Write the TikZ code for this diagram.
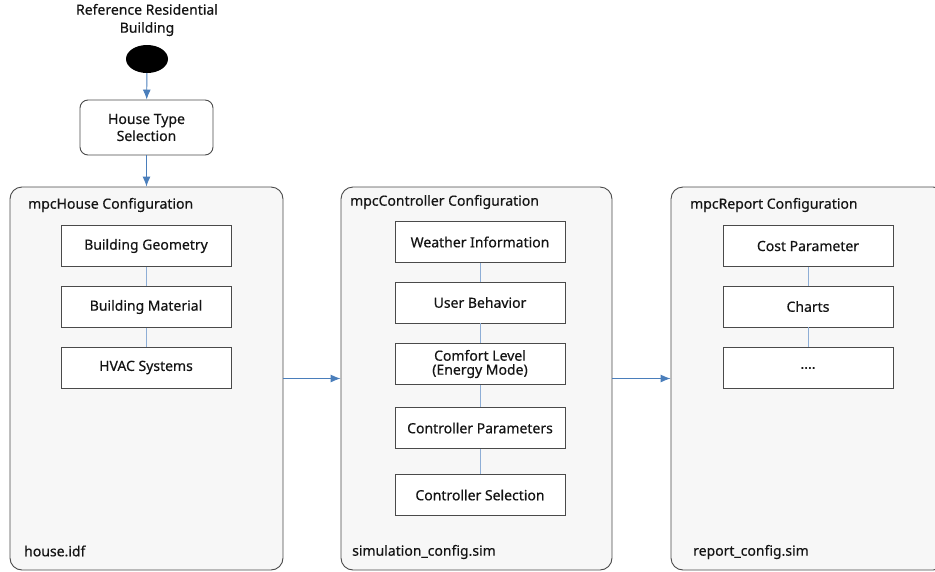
\documentclass[tikz,border=0pt]{standalone}
\usepackage{fontspec}
\setmainfont{Noto Sans}[FakeBold=0.4]
\usetikzlibrary{arrows.meta}
\usetikzlibrary{shapes.geometric}
\definecolor{pn}{HTML}{F7F7F7}
\definecolor{bl}{HTML}{4A7EBB}
\definecolor{lb}{HTML}{8EAED6}
\definecolor{ln}{HTML}{4A4A4A}
\definecolor{tx}{HTML}{141414}

\begin{document}
\begin{tikzpicture}[x=1pt, y=-1pt, text=tx,
  every node/.style={font=\fontsize{14}{18}\selectfont},
  panel/.style={draw=ln, fill=pn, line width=0.9pt, rounded corners=12pt, minimum width=#1, minimum height=383pt, inner sep=0pt},
  item/.style={draw=ln, fill=white, line width=0.9pt, minimum width=170pt, minimum height=41pt, align=center, inner sep=2pt},
  caption/.style={anchor=west, inner sep=0pt},
  link/.style={draw=lb, line width=0.9pt},
  flow/.style={draw=bl, line width=0.9pt, -{Latex[length=10pt,width=8pt]}}]
  \useasboundingbox (0,0) rectangle (935,571);
  \clip (0,0) rectangle (935,571);

  % start
  \node[align=center] (ref) at (147,20) {Reference Residential\\Building};
  \node[ellipse, fill=black, minimum width=42pt, minimum height=28pt, inner sep=0pt] (start) at (147,59) {};
  \node[draw=ln, fill=white, line width=0.9pt, rounded corners=8pt, minimum width=133pt, minimum height=55pt, align=center] (type) at (146.5,127.5) {House Type\\[-1pt]Selection};
  \draw[flow] (start) -- (type);

  % panels
  \node[panel=273pt] (house) at (146.5,378.5) {};
  \node[panel=271pt] (ctrl) at (476.5,378.5) {};
  \node[panel=274pt] (report) at (808,378.5) {};
  \draw[flow] (type) -- (house);
  \draw[flow] (house.east) -- (ctrl.west);
  \draw[flow] (ctrl.east) -- (report.west);

  \node[caption] (houset) at (28,205) {mpcHouse Configuration};
  \node[caption] (ctrlt) at (350,202) {mpcController Configuration};
  \node[caption] (reportt) at (690,205) {mpcReport Configuration};
  \node[caption] (housef) at (24,551) {house.idf};
  \node[caption] (ctrlf) at (352,552) {simulation\_config.sim};
  \node[caption] (reportf) at (693,552) {report\_config.sim};

  % mpcHouse
  \node[item] (geo) at (146,246) {Building Geometry};
  \node[item] (mat) at (146,307) {Building Material};
  \node[item] (hvac) at (146,367.5) {HVAC Systems};
  \draw[link] (geo) -- (mat);
  \draw[link] (mat) -- (hvac);

  % mpcController
  \node[item] (wea) at (480,242) {Weather Information};
  \node[item] (usr) at (480,302.5) {User Behavior};
  \node[item] (cmf) at (480,364) {Comfort Level\\[-4pt](Energy Mode)};
  \node[item] (par) at (480,428) {Controller Parameters};
  \node[item] (sel) at (480,495) {Controller Selection};
  \draw[link] (wea) -- (usr);
  \draw[link] (usr) -- (cmf);
  \draw[link] (cmf) -- (par);
  \draw[link] (par) -- (sel);

  % mpcReport
  \node[item] (cost) at (808,246) {Cost Parameter};
  \node[item] (chart) at (808,306.5) {Charts};
  \node[item] (more) at (808,368) {....};
  \draw[link] (cost) -- (chart);
  \draw[link] (chart) -- (more);
\end{tikzpicture}
\end{document}
